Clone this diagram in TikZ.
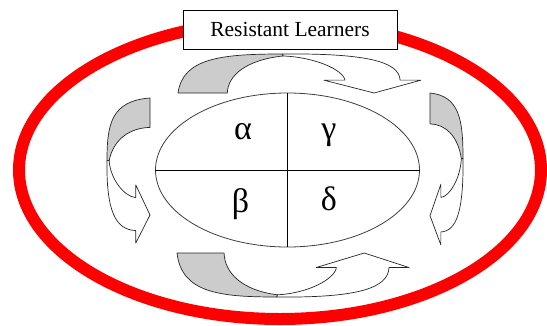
\documentclass[tikz,border=0pt]{standalone}
\usepackage{fontspec}
\setmainfont{Liberation Serif}
\usetikzlibrary{shapes.geometric}
\tikzset{
  ribbon/.style={draw=black!85, line width=0.7pt, line join=round},
  backside/.style={ribbon, fill=black!20},
  frontside/.style={ribbon, fill=white},
  greek/.style={font=\fontsize{34}{36}\selectfont, inner sep=0pt},
  thinline/.style={draw=black, line width=0.8pt},
}
\newcommand\ribbonarrow{%
  \path[backside] (0,0) -- (0.203,0) .. controls (0.205,0.45) and (0.28,0.85) .. (0.433,0.95) -- (0.43,1) .. controls (0.18,1) and (0.02,0.9) .. (0,0) -- cycle;
  \path[frontside] (0.43,1) .. controls (0.78,1.02) and (0.91,0.8) .. (0.914,0.33) -- (1,0.33) -- (0.807,0) -- (0.6,0.33) -- (0.687,0.33) .. controls (0.68,0.6) and (0.56,0.92) .. (0.433,0.95) -- cycle;
}
\begin{document}
\begin{tikzpicture}[x=1pt,y=-1pt]
\fill[white] (0,0) rectangle (547,325);
\useasboundingbox (0,0) rectangle (547,325);
\clip (0,0) rectangle (547,325);
\draw[red, line width=12pt] (280,170) ellipse [x radius=261, y radius=149];
\node[thinline, fill=white, minimum width=214pt, minimum height=39pt, inner sep=0pt, font=\fontsize{21.5}{24}\selectfont] (title) at (290,29.5) {Resistant Learners};
% top arrow
\begin{scope}[shift={(178,93)}, x={(243pt,0pt)}, y={(0pt,39pt)}]
\ribbonarrow
\end{scope}
% bottom arrow
\begin{scope}[shift={(177,253)}, x={(232pt,0pt)}, y={(0pt,-44pt)}]
\ribbonarrow
\end{scope}
% left arrow
\begin{scope}[shift={(150,98)}, x={(0pt,-145pt)}, y={(-43pt,0pt)}]
\ribbonarrow
\end{scope}
% right arrow
\begin{scope}[shift={(430,93)}, x={(0pt,-152pt)}, y={(33pt,0pt)}]
\ribbonarrow
\end{scope}
\node[draw=black!75, line width=0.8pt, ellipse, minimum width=264pt, minimum height=154pt, inner sep=0pt] (core) at (287.5,170) {};
\draw[thinline] (core.north) -- (core.south);
\draw[thinline] (core.west) -- (core.east);
\node[greek] (alpha) at (243,132) {α};
\node[greek] (gamma) at (329,135.5) {γ};
\node[greek] (beta) at (240.5,204) {β};
\node[greek] (delta) at (329,198.5) {δ};
\end{tikzpicture}
\end{document}
